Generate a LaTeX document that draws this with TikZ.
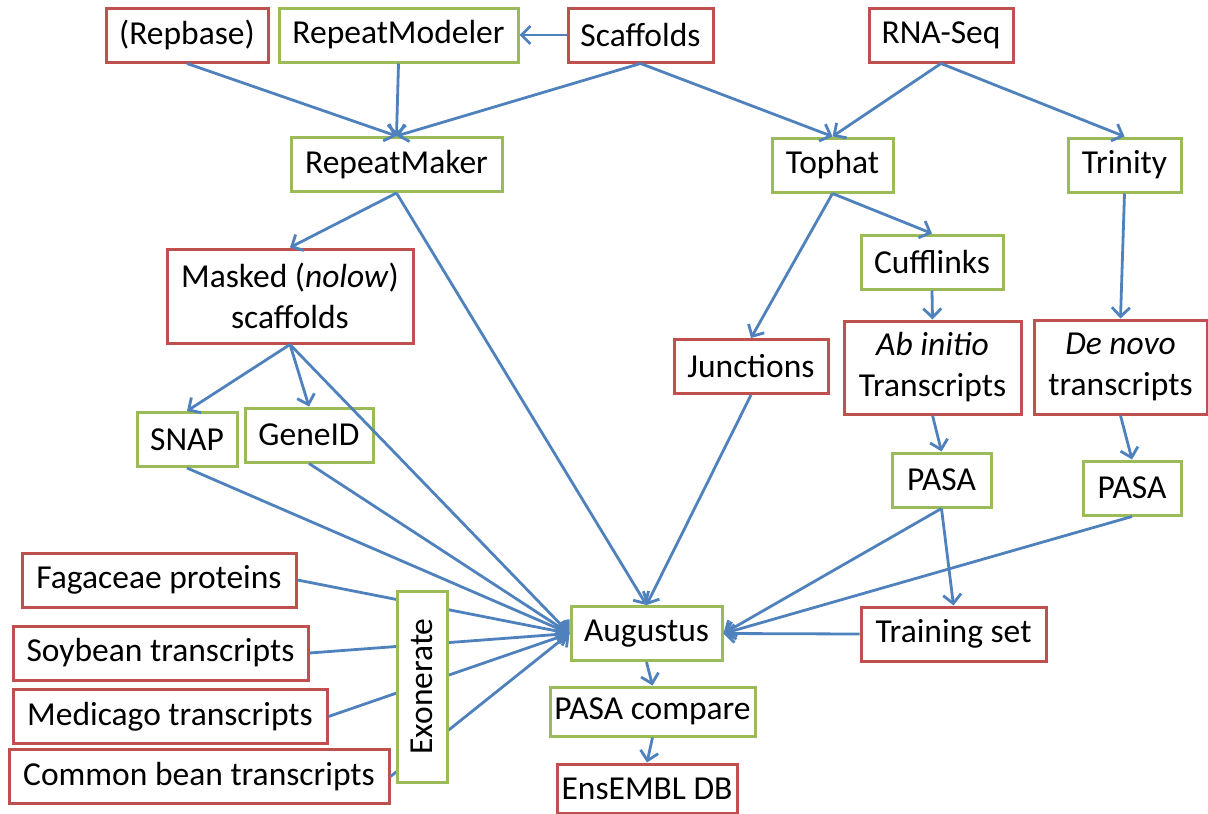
\documentclass[tikz,border=0pt]{standalone}
\usepackage{fontspec}
\setmainfont{Carlito}
\usetikzlibrary{arrows.meta}

\definecolor{boxred}{HTML}{C0504D}
\definecolor{boxgreen}{HTML}{9BBB59}
\definecolor{arrblue}{HTML}{4F81BD}

\tikzset{
  box/.style={draw, line width=3pt, fill=white, minimum height=54pt,
    inner sep=0pt, align=center, font=\fontsize{33.5}{41}\selectfont},
  datbox/.style={box, draw=boxred},
  toolbox/.style={box, draw=boxgreen},
  arr/.style={draw=arrblue, line width=2.8pt,
    -{Straight Barb[length=9pt,width=18pt]}},
}

\begin{document}
\begin{tikzpicture}[x=1pt,y=-1pt]
    \useasboundingbox (0,0) rectangle (1208,814);

    % Inputs
    \node[datbox, minimum width=162pt] (repbase) at (187,35) {(Repbase)};
    \node[toolbox, minimum width=239pt] (modeler) at (398.5,35) {RepeatModeler};
    \node[datbox, minimum width=145pt] (scaff) at (640.5,35) {Scaffolds};
    \node[datbox, minimum width=144pt] (rnaseq) at (941,35) {RNA-Seq};

    % Masking and mapping
    \node[toolbox, minimum width=211pt] (maker) at (396.5,164.5) {RepeatMaker};
    \node[toolbox, minimum width=121pt] (tophat) at (832.5,165) {Tophat};
    \node[toolbox, minimum width=113pt] (trinity) at (1124.5,165) {Trinity};
    \node[datbox, minimum width=246pt, minimum height=94pt] (masked) at (290,296)
        {Masked (\textit{nolow})\\scaffolds};
    \node[toolbox, minimum width=142pt] (cuff) at (932,262) {Cufflinks};
    \node[datbox, minimum width=154pt] (junc) at (751,366.5) {Junctions};
    \node[datbox, minimum width=177pt, minimum height=93pt] (abinit) at (932.5,367.5)
        {\textit{Ab initio}\\Transcripts};
    \node[datbox, minimum width=173pt, minimum height=94pt] (denovo) at (1120.5,367)
        {\textit{De novo}\\transcripts};

    % Gene predictors
    \node[toolbox, minimum width=100pt] (snap) at (187,439.5) {SNAP};
    \node[toolbox, minimum width=128pt] (geneid) at (309,435) {GeneID};
    \node[toolbox, minimum width=99pt] (pasaA) at (941.5,480) {PASA};
    \node[toolbox, minimum width=98pt] (pasaB) at (1132,488) {PASA};

    % Evidence
    \node[datbox, minimum width=274pt] (fag) at (159,580) {Fagaceae proteins};
    \node[datbox, minimum width=295pt] (soy) at (160.5,653) {Soybean transcripts};
    \node[datbox, minimum width=314pt] (med) at (170,716.5) {Medicago transcripts};
    \node[datbox, minimum width=380pt] (bean) at (199,776.5) {Common bean transcripts};

    % Annotation
    \node[toolbox, minimum width=151pt] (aug) at (646.5,633.5) {Augustus};
    \node[datbox, minimum width=185pt] (train) at (953.5,634) {Training set};
    \node[toolbox, minimum width=205pt, minimum height=49pt] (pcomp) at (652.5,711.5) {PASA compare};
    \node[datbox, minimum width=180pt, minimum height=49pt] (ens) at (647,788.5) {EnsEMBL DB};

    % Arrows
    \draw[arr] (scaff.west) -- (modeler.east);
    \draw[arr] (repbase.south) -- (maker.north);
    \draw[arr] (modeler.south) -- (maker.north);
    \draw[arr] (scaff.south) -- (maker.north);
    \draw[arr] (scaff.south) -- (tophat.north);
    \draw[arr] (rnaseq.south) -- (tophat.north);
    \draw[arr] (rnaseq.south) -- (trinity.north);
    \draw[arr] (maker.south) -- (masked.north);
    \draw[arr] (maker.south) -- (aug.north);
    \draw[arr] (tophat.south) -- (cuff.north);
    \draw[arr] (tophat.south) -- (junc.north);
    \draw[arr] (trinity.south) -- (denovo.north);
    \draw[arr] (cuff.south) -- (abinit.north);
    \draw[arr] (masked.south) -- (snap.north);
    \draw[arr] (masked.south) -- (geneid.north);
    \draw[arr] (masked.south) -- (aug.west);
    \draw[arr] (junc.south) -- (aug.north);
    \draw[arr] (abinit.south) -- (pasaA.north);
    \draw[arr] (denovo.south) -- (pasaB.north);
    \draw[arr] (snap.south) -- (aug.west);
    \draw[arr] (geneid.south) -- (aug.west);
    \draw[arr] (pasaA.south) -- (aug.east);
    \draw[arr] (pasaA.south) -- (train.north);
    \draw[arr] (pasaB.south) -- (aug.east);
    \draw[arr] (train.west) -- (aug.east);
    \foreach \src in {fag,soy,med,bean}
        \draw[arr] (\src.east) -- (aug.west);
    \draw[arr] (aug.south) -- (pcomp.north);
    \draw[arr] (pcomp.south) -- (ens.north);

    % Exonerate sits over the evidence lines
    \node[toolbox, rotate=90, minimum width=191pt, minimum height=50pt] (exon) at (422,686.5) {Exonerate};
\end{tikzpicture}
\end{document}
